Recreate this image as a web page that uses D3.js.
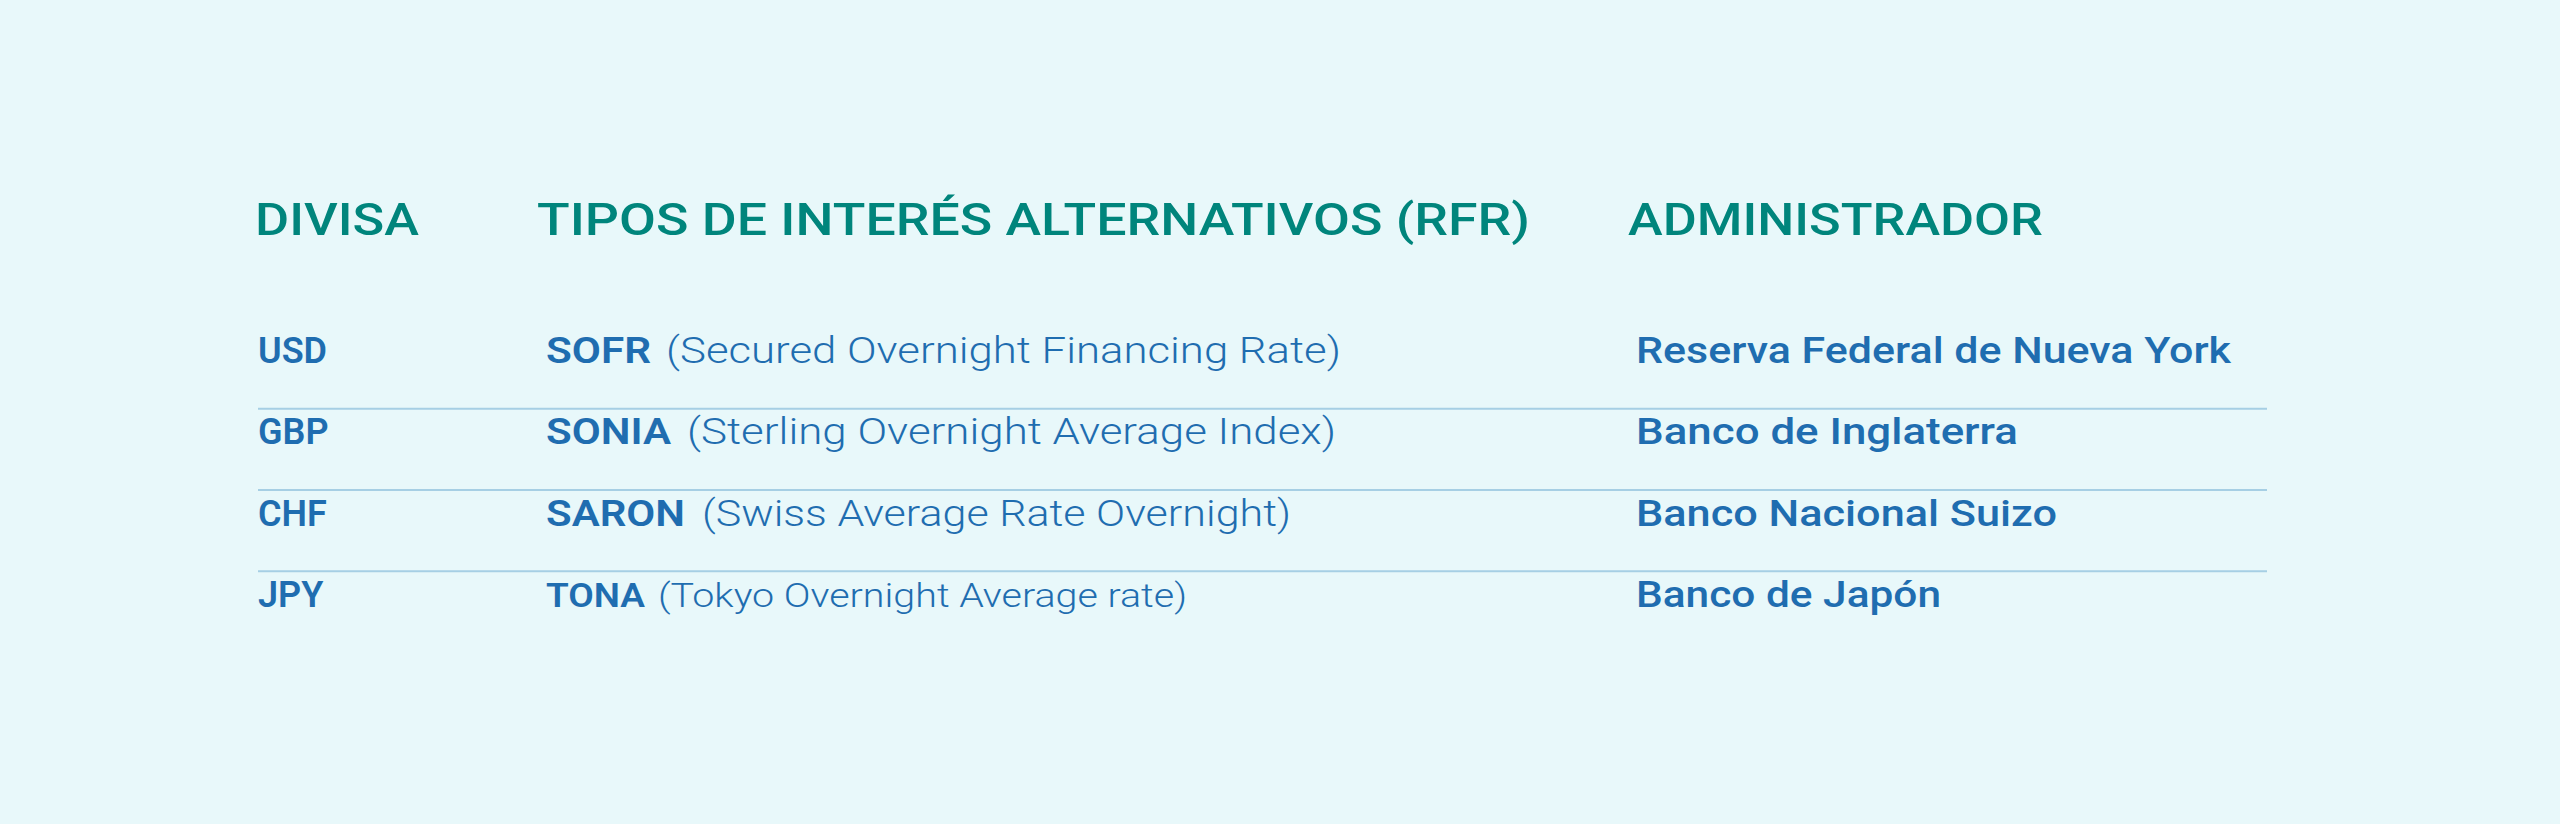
<!DOCTYPE html>
<html><head><meta charset="utf-8">
<script src="https://cdn.jsdelivr.net/npm/d3@7"></script>
<style>html,body{margin:0;padding:0;background:#e8f8fa;}</style>
</head><body>
<svg id="c" width="2560" height="824"></svg>
<script>
const headers = ["DIVISA", "TIPOS DE INTERÉS ALTERNATIVOS (RFR)", "ADMINISTRADOR"];
const currencies = ["USD", "GBP", "CHF", "JPY"];
const rateCodes = ["SOFR", "SONIA", "SARON", "TONA"];
const rateNames = ["(Secured Overnight Financing Rate)", "(Sterling Overnight Average Index)", "(Swiss Average Rate Overnight)", "(Tokyo Overnight Average rate)"];
const administrators = ["Reserva Federal de Nueva York", "Banco de Inglaterra", "Banco Nacional Suizo", "Banco de Japón"];

// layout (pixel) measurements from reference
const headerX = [255, 537, 1628], headerW = [164, 993, 415];
const codeEnd = [651, 671, 685, 645], nameStart = [666, 687, 702, 658], nameEnd = [1341, 1336, 1291, 1187];
const adminEnd = [2231, 2018, 2057, 1941];

const svg = d3.select("#c");
const font = "Roboto, 'Open Sans', sans-serif";
const teal = "#00857c", blue = "#1f6db0";

svg.selectAll("text.h").data(headers).join("text")
  .attr("x", (d,i)=>headerX[i]).attr("y", 235)
  .attr("font-family", font).attr("font-size", 45).attr("font-weight", 500)
  .attr("fill", teal).attr("textLength", (d,i)=>headerW[i]).attr("lengthAdjust","spacingAndGlyphs")
  .text(d=>d);

const y = d3.scalePoint().domain(d3.range(currencies.length)).range([363, 607]);
const idx = d3.range(currencies.length);

svg.selectAll("line.sep").data(idx.slice(1)).join("line")
  .attr("x1", 258).attr("x2", 2267)
  .attr("y1", i=>(y(i-1)+y(i))/2 + 5).attr("y2", i=>(y(i-1)+y(i))/2 + 5)
  .attr("stroke", "#a6cfe4").attr("stroke-width", 2);

const size = i => i===3 ? 33 : 36;
svg.selectAll("text.cur").data(idx).join("text")
  .attr("x", 258).attr("y", i=>y(i)).attr("font-family", font).attr("font-size", 36).attr("font-weight", 600)
  .attr("fill", blue).text(i=>currencies[i]);
svg.selectAll("text.code").data(idx).join("text")
  .attr("x", 546).attr("y", i=>y(i)).attr("font-family", font).attr("font-size", size).attr("font-weight", 600)
  .attr("fill", blue).attr("textLength", i=>codeEnd[i]-546).attr("lengthAdjust","spacingAndGlyphs").text(i=>rateCodes[i]);
svg.selectAll("text.name").data(idx).join("text")
  .attr("x", i=>nameStart[i]).attr("y", i=>y(i)).attr("font-family", font).attr("font-size", size).attr("font-weight", 300)
  .attr("fill", blue).attr("textLength", i=>nameEnd[i]-nameStart[i]).attr("lengthAdjust","spacingAndGlyphs").text(i=>rateNames[i]);
svg.selectAll("text.adm").data(idx).join("text")
  .attr("x", 1636).attr("y", i=>y(i)).attr("font-family", font).attr("font-size", 36).attr("font-weight", 500)
  .attr("fill", blue).attr("textLength", i=>adminEnd[i]-1636).attr("lengthAdjust","spacingAndGlyphs").text(i=>administrators[i]);
</script>
</body></html>
